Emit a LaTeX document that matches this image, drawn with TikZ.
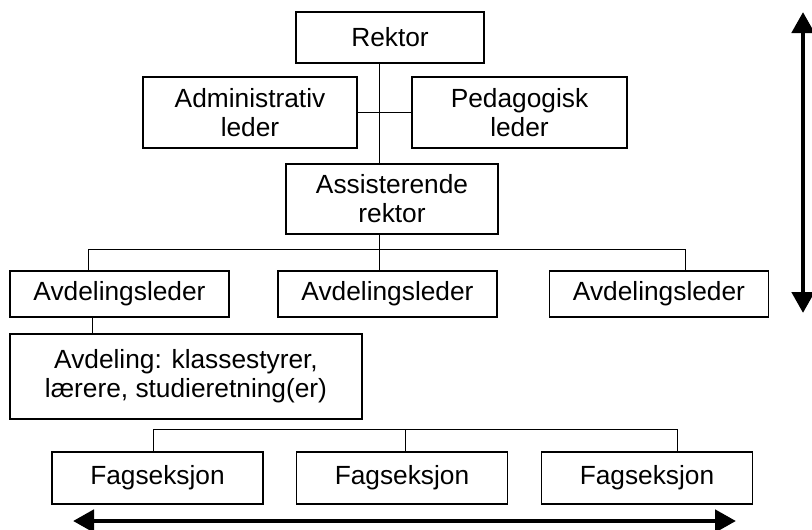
\documentclass[tikz,border=0pt]{standalone}
\usepackage{fontspec}
\setmainfont{Liberation Sans}
\usetikzlibrary{arrows.meta,positioning}

\begin{document}
\begin{tikzpicture}[x=1pt, y=-1pt, line width=1pt, >={Triangle[length=21pt,width=22pt]}]
\tikzstyle{box}=[draw=black, line width=1.3pt, fill=white, align=center, inner sep=0pt,
  font=\fontsize{26.3}{29}\selectfont]
\tikzstyle{lead}=[box, minimum width=219pt, minimum height=46pt]
\tikzstyle{fag}=[box, minimum width=211pt, minimum height=52pt]
\tikzstyle{span}=[<->, line width=4.8pt]
\useasboundingbox (0,0) rectangle (812,530);
% top of the school
\node[box, minimum width=188pt, minimum height=51pt] (rektor)    at (390,37.5)  {Rektor};
\node[box, minimum width=214pt, minimum height=71pt] (adminleder) at (250,112.5) {Administrativ\\leder};
\node[box, minimum width=215pt, minimum height=71pt] (pedleder)  at (519.5,112.5) {Pedagogisk\\leder};
\node[box, minimum width=212pt, minimum height=70pt] (assrektor) at (392,199)   {Assisterende\\rektor};
% departments
\node[lead] (avd1) at (119.5,294) {Avdelingsleder};
\node[lead] (avd2) at (387.5,294) {Avdelingsleder};
\node[lead] (avd3) at (659,294)   {Avdelingsleder};
\node[box, minimum width=352pt, minimum height=85pt] (avdeling) at (186,376.5)
  {Avdeling: klassestyrer,\\lærere, studieretning(er)};
% subject sections
\node[fag] (fag1) at (157.5,478) {Fagseksjon};
\node[fag] (fag2) at (402,478)   {Fagseksjon};
\node[fag] (fag3) at (647,478)   {Fagseksjon};

\coordinate (spine) at (379,0);
\coordinate (b1l) at (88,249);
\coordinate (b1r) at (685,249);
\coordinate (tap) at (92,0);
\coordinate (b2l) at (153,429);
\coordinate (b2m) at (405,429);
\coordinate (b2r) at (677,429);
\coordinate (vtop) at (803,12);
\coordinate (vbot) at (803,313);
\coordinate (hleft) at (73,521);
\coordinate (hright) at (736,521);

\draw (rektor.south -| spine) -- (assrektor.north -| spine);
\draw (adminleder.east) -- (pedleder.west);
\draw (avd1.north -| b1l) -- (b1l) -- (b1r) -- (avd3.north -| b1r);
\draw (assrektor.south -| spine) -- (avd2.north -| spine);
\draw (avd1.south -| tap) -- (avdeling.north -| tap);
\draw (fag1.north -| b2l) -- (b2l) -- (b2r) -- (fag3.north -| b2r);
\draw (b2m) -- (fag2.north -| b2m);

\draw[span] (vbot) -- (vtop);
\draw[span] (hleft) -- (hright);
\end{tikzpicture}
\end{document}
